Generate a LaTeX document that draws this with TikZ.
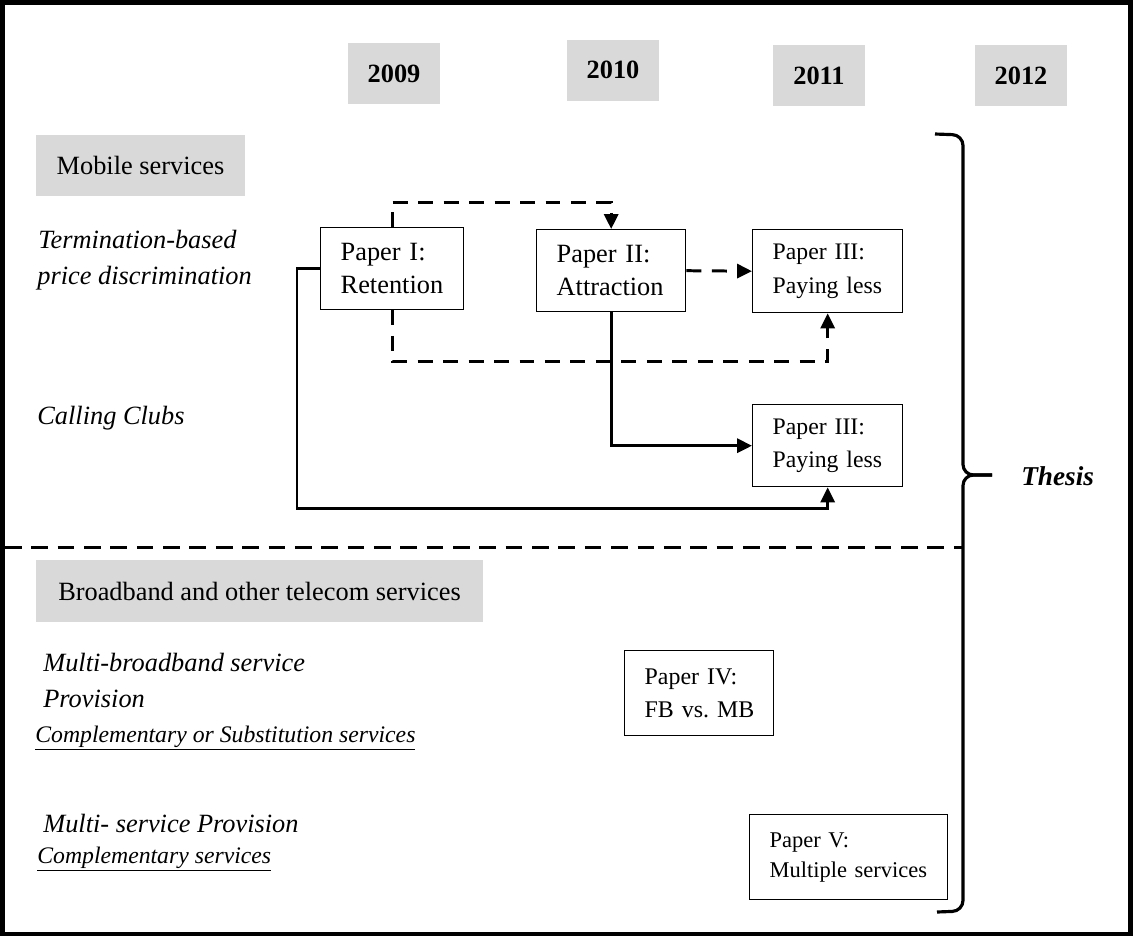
\documentclass[tikz,border=0pt]{standalone}
\usepackage{fontspec}
\setmainfont{Liberation Serif}
\usetikzlibrary{arrows.meta, positioning}

\begin{document}
\begin{tikzpicture}
[x=0.02cm, y=-0.02cm, font=\fontsize{15}{19}\selectfont,
->/.style={line width=1.7pt, arrows={-Triangle[length=8.5pt,width=8pt]}},
-->/.style={line width=1.7pt, arrows={-Triangle[length=8.5pt,width=8pt]}, dash pattern=on 8.5pt off 6pt},
   yearG/.style={shape=rectangle, fill=gray!30, minimum width=1.84cm, minimum height=1.22cm, font=\fontsize{15}{19}\selectfont\bfseries},
   topicG/.style={shape=rectangle, fill=gray!30, minimum height=1.22cm},
   paperG/.style={shape=rectangle, draw, line width=0.8pt, align=left, inner xsep=0.4cm, inner ysep=0pt, anchor=north west},
   areaL/.style={anchor=base west, inner sep=0pt, font=\fontsize{15}{19}\selectfont\itshape},
   subL/.style={anchor=base west, inner sep=0pt, font=\fontsize{13.5}{16}\selectfont\itshape}]
\useasboundingbox (0,0) rectangle (1134,938);
\draw[line width=2.8pt] (2.5,2.5) rectangle (1130.5,934);
% years
\node[yearG] (Y09) at (394,73.5) {2009};
\node[yearG] (Y10) at (613,70) {2010};
\node[yearG] (Y11) at (819,75.5) {2011};
\node[yearG] (Y12) at (1021,75.5) {2012};
% mobile part
\node[topicG, minimum width=4.18cm] (MS) at (140.5,165.5) {Mobile services};
\node[areaL] (TB) at (38,248) {Termination-based};
\node[areaL] (PD) at (37,284) {price discrimination};
\node[areaL] (CC) at (37,424) {Calling Clubs};
\node[paperG, text width=2.06cm, minimum height=1.64cm] (P1) at (320,227) {Paper I:\\Retention};
\node[paperG, text width=2.18cm, minimum height=1.64cm] (P2) at (536,229) {Paper II:\\Attraction};
\node[paperG, text width=2.2cm, minimum height=1.66cm, font=\fontsize{13.5}{19}\selectfont] (P3a) at (752,229) {Paper III:\\Paying less};
\node[paperG, text width=2.2cm, minimum height=1.64cm, font=\fontsize{13.5}{19}\selectfont] (P3b) at (752,404) {Paper III:\\Paying less};
\draw [-->] (P1.north) -- ++(0,-25) -| (P2.north);
\draw [-->] (P2.east) -- (P3a.west);
\draw [-->] (P1.south) -- ++(0,51) -| (P3a.south);
\draw [->] (P2.south) |- (P3b.west);
\draw [->] (P1.west) -- ++(-23,0) -- ++(0,240) -| (P3b.south);
\draw [line width=1.7pt, dash pattern=on 9.5pt off 5.5pt] (5,547) -- (962,547);
% broadband part
\node[topicG, minimum width=8.94cm, minimum height=1.24cm] (BB) at (259.5,591) {Broadband and other telecom services};
\node[areaL] (MB) at (43,671) {Multi-broadband service};
\node[areaL] (PR) at (43,707) {Provision};
\node[subL] (CS) at (35,742) {\underline{Complementary or Substitution services}};
\node[areaL] (MP) at (43,832) {Multi- service Provision};
\node[subL] (CM) at (37,863) {\underline{Complementary services}};
\node[paperG, text width=2.18cm, minimum height=1.7cm, font=\fontsize{13.6}{19}\selectfont] (P4) at (624,650) {Paper IV:\\\mbox{FB vs.\ MB}};
\node[paperG, text width=3.16cm, minimum height=1.7cm, font=\fontsize{12.8}{17}\selectfont] (P5) at (749,814) {Paper V:\\Multiple services};
% thesis brace
\coordinate (Bt) at (935,134);
\coordinate (Btip) at (992,475);
\coordinate (Bb) at (937,912);
\draw [line width=1.8pt, rounded corners=6pt] (Bt) -- (963,135) -- (963,475) -- (Btip);
\draw [line width=1.8pt, rounded corners=6pt] (Btip) -- (963,475) -- (963,911) -- (Bb);
\node[anchor=west, inner sep=0pt, font=\fontsize{15.5}{19}\selectfont\bfseries\itshape] (TH) at (1021,476) {Thesis};
\end{tikzpicture}
\end{document}
